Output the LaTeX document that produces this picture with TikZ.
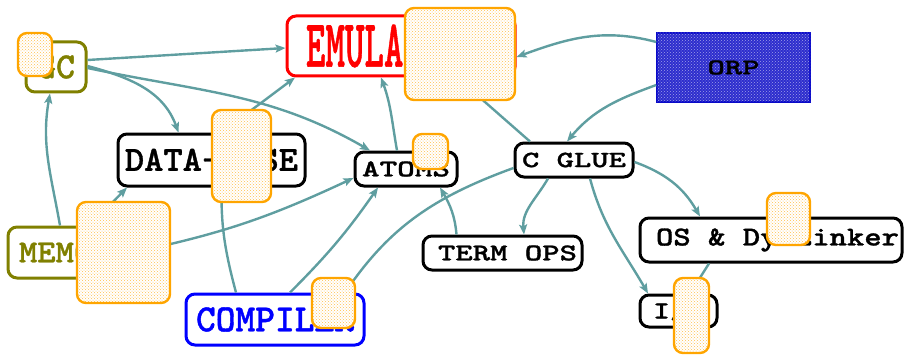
\documentclass[tikz,border=0pt]{standalone}
\usepackage{fontspec}
\usepackage{graphicx}
\newfontfamily\typebold[FakeBold=1]{lmmonolt10-bold.otf}
\usetikzlibrary{arrows.meta,patterns}
\pgfdeclarelayer{front}
\pgfsetlayers{main,front}
\definecolor{linkteal}{RGB}{95,158,160}
\definecolor{olivebox}{RGB}{128,128,0}
\definecolor{orpblue}{RGB}{45,45,205}
\definecolor{orpedge}{RGB}{10,10,200}
\definecolor{patchedge}{RGB}{255,165,0}
\colorlet{patchdots}{patchedge!70}
% label stretched to a given width and cap height
\newcommand{\fitlabel}[3]{\resizebox{#1pt}{#2pt}{#3}}
\def\patches{{(18,278)/(52,321)}, {(405,254)/(515,346)}, {(212,152)/(271,244)}, {(413,185)/(448,220)}, {(767,109)/(810,161)}, {(674,1)/(709,76)}, {(77,51)/(170,152)}, {(312,26)/(355,76)}}
\tikzset{
  module/.style={draw, line width=3pt, rounded corners=9pt, fill=white, inner sep=0pt,
    font=\typebold\fontsize{28}{28}\selectfont},
  flow/.style={draw=linkteal, line width=2.4pt, -{Stealth[length=10pt,width=8pt,inset=2pt]}},
  patch/.style={draw=patchedge, line width=2.4pt, rounded corners=9pt, preaction={fill=white},
    pattern=crosshatch dots, pattern color=patchdots}
}
\begin{document}
\begin{tikzpicture}[x=1pt,y=1pt]
  \useasboundingbox (0,0) rectangle (904,354);

  % the modules
  \node[module, draw=olivebox, text=olivebox, minimum width=60pt, minimum height=50pt]
    (gc) at (56,287) {\fitlabel{38}{23}{GC}};
  \node[module, draw=red, text=red, minimum width=228pt, minimum height=60pt]
    (emu) at (401,308) {\makebox[190pt][l]{\fitlabel{156}{42}{EMULATOR}}};
  \node[draw=orpedge, line width=1.5pt, fill=orpblue, postaction={pattern=crosshatch dots, pattern color=orpblue!45!white},
    minimum width=153pt, minimum height=69pt, inner sep=0pt,
    font=\typebold\fontsize{28}{28}\selectfont] (orp) at (733.5,286.5) {\fitlabel{52}{14}{ORP}};
  \node[module, minimum width=187pt, minimum height=52pt]
    (db) at (211.5,194) {\fitlabel{173}{22}{DATA-BASE}};
  \node[module, minimum width=102pt, minimum height=34pt] (atoms) at (406,185) {\fitlabel{88}{15}{ATOMS}};
  \node[module, minimum width=118pt, minimum height=34pt] (glue) at (574,194) {\fitlabel{104}{14.5}{C GLUE}};
  \node[module, minimum width=159pt, minimum height=34pt] (term) at (502.5,101) {\kern10pt\fitlabel{139}{15}{TERM OPS}};
  \node[module, minimum width=262pt, minimum height=44pt] (os) at (771,114) {\kern13pt\fitlabel{243}{17}{OS \& DynLinker}};
  \node[module, minimum width=77pt, minimum height=32pt] (io) at (678.5,43) {\fitlabel{51}{17}{I/O}};
  \node[module, draw=olivebox, text=olivebox, minimum width=132pt, minimum height=51pt]
    (mem) at (74,101.5) {\fitlabel{110}{20}{MEMORY}};
  \node[module, draw=blue, text=blue, minimum width=178pt, minimum height=51pt]
    (comp) at (275,34.5) {\fitlabel{158}{24}{COMPILER}};

  % the connections
  \draw[flow] ([yshift=7pt]gc.east) -- ([yshift=-2pt]emu.west);
  \draw[flow] ([yshift=1pt]gc.east) to[out=-15,in=110] ([xshift=-33pt]db.north);
  \draw[flow] ([yshift=-1pt]gc.east) to[out=-12,in=150] ([xshift=-36pt]atoms.north);
  \draw[flow] ([xshift=-14pt]mem.north) to[out=100,in=-100] ([xshift=-6pt]gc.south);
  \draw[flow] ([xshift=16pt]mem.north) -- ([xshift=-84.5pt]db.south);
  \draw[flow] ([yshift=2pt]mem.east) to[out=12,in=-155] ([yshift=-9pt]atoms.west);
  \draw[flow] ([xshift=10pt]db.north) -- ([xshift=-106pt]emu.south);
  \draw[flow] ([xshift=-9pt]atoms.north) to[out=100,in=-70] ([xshift=-20pt]emu.south);
  \draw[flow] ([xshift=-39pt]comp.north) to[out=105,in=-90] ([xshift=10pt]db.south);
  \draw[flow] ([xshift=15pt]comp.north) to[out=45,in=-125] ([xshift=-28pt]atoms.south);
  \draw[flow] ([yshift=-8pt]glue.west) to[out=200,in=55] ([xshift=70pt]comp.north);
  \draw[flow] ([xshift=-46pt]term.north) to[out=95,in=-60] ([xshift=34pt]atoms.south);
  \draw[flow] ([xshift=-26pt]glue.south) to[out=-120,in=95] ([xshift=21.5pt]term.north);
  \draw[flow] ([xshift=16pt]glue.south) to[out=-75,in=120] ([xshift=-30.5pt]io.north);
  \draw[flow] ([yshift=-2pt]glue.east) to[out=-20,in=120] ([xshift=-71pt]os.north);
  \draw[flow] ([xshift=-62pt]os.south) -- ([xshift=11.5pt]io.north);
  \draw[flow] ([yshift=25.5pt]orp.west) to[out=165,in=20] ([yshift=-11pt]emu.east);
  \draw[flow] ([yshift=-17.5pt]orp.west) to[out=200,in=50] ([xshift=-7pt]glue.north);
  \draw[flow] ([xshift=-44pt]glue.north) -- ([xshift=56pt]emu.south);

  % the patches on top
  \begin{pgfonlayer}{front}
    \foreach \a/\b in \patches
      \path[patch] \a rectangle \b;
  \end{pgfonlayer}
\end{tikzpicture}
\end{document}
